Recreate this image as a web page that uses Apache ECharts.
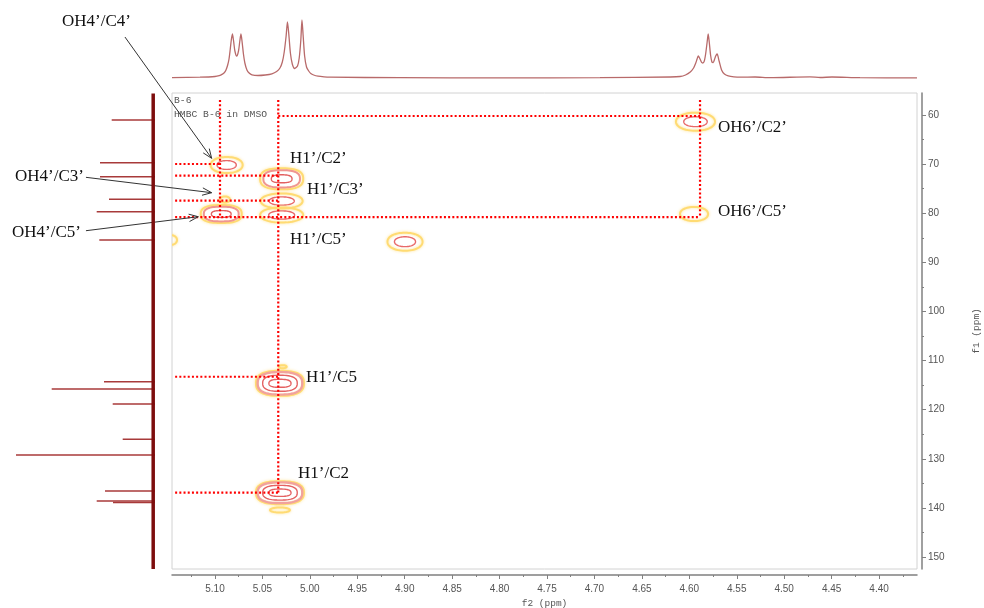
<!DOCTYPE html>
<html><head><meta charset="utf-8">
<script src="https://cdn.jsdelivr.net/npm/echarts@6/dist/echarts.min.js"></script>
<style>html,body{margin:0;padding:0;background:#fff}#c{width:984px;height:608px}</style>
</head><body><div id="c"></div>
<script>
// ---------- axes ----------
const f2Range = [4.36, 5.1453];
const f1Range = [55.52, 152.44];
const f2Ticks = [5.10, 5.05, 5.00, 4.95, 4.90, 4.85, 4.80, 4.75, 4.70, 4.65, 4.60, 4.55, 4.50, 4.45, 4.40];
const f2MinorTicks = [5.125, 5.075, 5.025, 4.975, 4.925, 4.875, 4.825, 4.775, 4.725, 4.675, 4.625, 4.575, 4.525, 4.475, 4.425, 4.375];
const f1Ticks = [60, 70, 80, 90, 100, 110, 120, 130, 140, 150];
const f1MinorTicks = [65, 75, 85, 95, 105, 115, 125, 135, 145];

// ---------- 1H projection (top) ----------
const h1Shift = [5.1453, 5.1158, 5.1000, 5.0955, 5.0926, 5.0900, 5.0884, 5.0866, 5.0852, 5.0840, 5.0828, 5.0816, 5.0804, 5.0790, 5.0771, 5.0752, 5.0738, 5.0726, 5.0714, 5.0700, 5.0685, 5.0663, 5.0640, 5.0610, 5.0547, 5.0470, 5.0400, 5.0350, 5.0315, 5.0290, 5.0270, 5.0250, 5.0236, 5.0222, 5.0205, 5.0185, 5.0160, 5.0130, 5.0112, 5.0095, 5.0083, 5.0071, 5.0055, 5.0035, 5.0012, 4.9990, 4.9960, 4.9914, 4.9850, 4.9788, 4.9050, 4.7996, 4.6941, 4.6200, 4.6098, 4.6040, 4.5990, 4.5955, 4.5932, 4.5918, 4.5906, 4.5892, 4.5870, 4.5858, 4.5842, 4.5828, 4.5812, 4.5801, 4.5790, 4.5776, 4.5762, 4.5748, 4.5733, 4.5722, 4.5707, 4.5686, 4.5660, 4.5630, 4.5590, 4.5530, 4.5465, 4.5307, 4.5149, 4.4728, 4.4620, 4.4496, 4.4201, 4.3600];
const h1Intensity = [0.3, 0.8, 1.5, 2.4, 3.6, 5.5, 8, 13, 19, 28, 38, 44, 37, 27, 22, 27, 37, 44, 36, 24, 15, 8, 5, 3.2, 2.5, 3, 4.2, 6.5, 10, 16, 26, 42, 56, 44, 25, 14, 9.5, 12, 20, 38, 58, 43, 22, 11, 7, 4.5, 3, 1.8, 1.1, 0.8, 0.3, 0.2, 0.3, 1.0, 1.5, 3, 6, 10, 15, 19, 22, 20, 15.5, 15, 17, 24, 36, 44, 36, 23, 16, 15.5, 19, 22, 24, 17, 8, 4, 2.2, 1.2, 0.8, 1.0, 0.3, 1.2, 0.5, 1.0, 0.3, 0.2];

// ---------- 13C projection (left) ----------
const c13Shift = [61.02, 69.71, 72.56, 77.17, 79.69, 85.45, 114.31, 115.79, 118.85, 126.04, 129.23, 136.56, 138.60, 138.91];
const c13Intensity = [43.3, 55, 55, 46, 58.3, 55.7, 51, 103.3, 42.3, 32.3, 139, 50, 58.3, 42];

// ---------- HMBC cross peaks ----------
const peakF2 = [5.0877, 5.0297, 5.0297, 5.0297, 5.0934, 5.0895, 4.8997, 5.1474, 4.5935, 4.5950, 5.0315, 5.0286, 5.0315, 5.0315];
const peakF1 = [70.18, 72.99, 77.51, 80.36, 80.16, 77.2, 85.80, 85.45, 61.36, 80.16, 114.63, 111.25, 136.91, 140.43];
const peakHalfF2 = [0.0169, 0.0227, 0.0221, 0.0227, 0.0216, 0.0053, 0.0185, 0.0074, 0.0206, 0.0148, 0.0253, 0.0042, 0.0253, 0.0105];
const peakHalfF1 = [1.63, 2.14, 1.53, 1.53, 1.83, 0.61, 1.83, 1.02, 1.83, 1.43, 2.55, 0.31, 2.34, 0.51];
const peakLevels = [1, 2, 1, 1, 2, 0, 1, 0, 1, 0, 3, 0, 3, 0];

// ---------- dotted correlation guides ----------
const guideH = [[60.2, 5.0333, 4.5887], [69.98, 5.142, 5.0947], [72.36, 5.142, 5.0333], [77.45, 5.142, 5.0333], [80.8, 5.142, 4.5887], [113.3, 5.142, 5.0333], [136.9, 5.142, 5.0333]];
const guideV = [[5.0947, 56.95, 80.8], [5.0333, 56.95, 136.9], [4.5887, 56.95, 80.8]];

// ---------- annotations ----------
const labelText = ['OH4’/C4’', 'OH4’/C3’', 'OH4’/C5’', 'H1’/C2’', 'H1’/C3’', 'H1’/C5’', 'OH6’/C2’', 'OH6’/C5’', 'H1’/C5', 'H1’/C2'];
const labelF2 = [5.2613, 5.3108, 5.3140, 5.0209, 5.0030, 5.0209, 4.5697, 4.5697, 5.0041, 5.0125];
const labelF1 = [41.06, 72.62, 84.03, 68.96, 75.27, 85.45, 62.65, 79.75, 113.55, 132.9];
const arrowFrom = [[5.1949, 44.12], [5.2360, 72.69], [5.2360, 83.56]];
const arrowTo = [[5.1035, 68.82], [5.1035, 75.82], [5.1176, 80.71]];

// ---------- rendering helpers ----------
function blob(cx, cy, a, b, p) {
  const pts = [];
  for (let k = 0; k < 64; k++) {
    const t = k / 64 * Math.PI * 2, ct = Math.cos(t), st = Math.sin(t);
    pts.push([cx + a * Math.sign(ct) * Math.pow(Math.abs(ct), 2 / p),
              cy + b * Math.sign(st) * Math.pow(Math.abs(st), 2 / p)]);
  }
  return pts;
}
const ringSets = {
  0: [],
  1: [[0.6, 0.55, 1.4, '#e86868']],
  2: [[0.85, 0.82, 2.0, '#f09590'], [0.48, 0.38, 1.4, '#e26060']],
  3: [[0.93, 0.9, 2.4, '#f2a29c'], [0.72, 0.64, 1.4, '#e46262'], [0.46, 0.32, 1.4, '#e46262']]
};
const tickFont = 'Liberation Sans';
const monoFont = 'Liberation Mono';
const axisGray = '#808080';

const chart = echarts.init(document.getElementById('c'), null, {renderer: 'canvas'});
chart.setOption({
  animation: false,
  backgroundColor: '#fff',
  grid: [
    {left: 172, width: 745, top: 93, height: 476, show: true, borderColor: '#d2d2d2', borderWidth: 1, backgroundColor: 'transparent', outerBoundsMode: 'none', containLabel: false},
    {left: 172, width: 745, top: 20, height: 58, show: false, outerBoundsMode: 'none', containLabel: false},
    {left: 0, width: 155, top: 93, height: 476, show: false, outerBoundsMode: 'none', containLabel: false}
  ],
  xAxis: [
    {type: 'value', gridIndex: 0, min: f2Range[0], max: f2Range[1], inverse: true, position: 'bottom', offset: 6,
     axisLine: {show: true, onZero: false, lineStyle: {color: axisGray, width: 1.5}},
     axisTick: {show: true, length: 4, customValues: f2Ticks, lineStyle: {color: axisGray}},
     axisLabel: {customValues: f2Ticks, formatter: v => v.toFixed(2), margin: 9, fontSize: 10, fontFamily: tickFont, color: '#555'},
     splitLine: {show: false},
     name: 'f2 (ppm)', nameLocation: 'middle', nameGap: 22, nameTextStyle: {fontFamily: monoFont, fontSize: 9.5, color: '#555'}},
    {type: 'value', gridIndex: 0, min: f2Range[0], max: f2Range[1], inverse: true, position: 'bottom', offset: 6,
     axisLine: {show: false}, axisLabel: {show: false}, splitLine: {show: false},
     axisTick: {show: true, length: 2, customValues: f2MinorTicks, lineStyle: {color: axisGray}}},
    {type: 'value', gridIndex: 1, min: f2Range[0], max: f2Range[1], inverse: true, show: false},
    {type: 'value', gridIndex: 2, min: 0, max: 155, inverse: true, show: false}
  ],
  yAxis: [
    {type: 'value', gridIndex: 0, min: f1Range[0], max: f1Range[1], inverse: true, position: 'right', offset: 5,
     axisLine: {show: true, onZero: false, lineStyle: {color: axisGray, width: 1.5}},
     axisTick: {show: true, length: 4, customValues: f1Ticks, lineStyle: {color: axisGray}},
     axisLabel: {customValues: f1Ticks, margin: 6, fontSize: 10, fontFamily: tickFont, color: '#555'},
     splitLine: {show: false},
     name: 'f1 (ppm)', nameLocation: 'middle', nameRotate: 90, nameGap: 49, nameTextStyle: {fontFamily: monoFont, fontSize: 9.5, color: '#555'}},
    {type: 'value', gridIndex: 0, min: f1Range[0], max: f1Range[1], inverse: true, position: 'right', offset: 5,
     axisLine: {show: false}, axisLabel: {show: false}, splitLine: {show: false},
     axisTick: {show: true, length: 2, customValues: f1MinorTicks, lineStyle: {color: axisGray}}},
    {type: 'value', gridIndex: 1, min: 0, max: 58, show: false},
    {type: 'value', gridIndex: 2, min: f1Range[0], max: f1Range[1], inverse: true, show: false}
  ],
  graphic: [
    {type: 'text', left: 174, top: 95, style: {text: 'B-6', font: '9.7px "Liberation Mono"', fill: '#555'}},
    {type: 'text', left: 174, top: 109, style: {text: 'HMBC B-6 in DMSO', font: '9.7px "Liberation Mono"', fill: '#555'}}
  ],
  series: [
    // top 1H trace
    {type: 'line', xAxisIndex: 2, yAxisIndex: 2, data: h1Shift.map((x, i) => [x, h1Intensity[i]]),
     showSymbol: false, smooth: 0.25, clip: false, lineStyle: {color: '#b86a6a', width: 1.3}},
    // left 13C baseline
    {type: 'line', xAxisIndex: 3, yAxisIndex: 3, data: [[1.8, f1Range[0] + 0.1], [1.8, f1Range[1]]],
     showSymbol: false, lineStyle: {color: '#7d0d0d', width: 3.5}},
    // left 13C peaks
    {type: 'custom', xAxisIndex: 3, yAxisIndex: 3, data: c13Shift.map((y, i) => [c13Intensity[i], y]),
     renderItem(params, api) {
       const p1 = api.coord([0, api.value(1)]), p2 = api.coord([api.value(0), api.value(1)]);
       return {type: 'line', shape: {x1: p1[0], y1: p1[1], x2: p2[0], y2: p2[1]}, style: {stroke: '#a83a3a', lineWidth: 1.5}};
     }},
    // HMBC contours
    {type: 'custom', xAxisIndex: 0, yAxisIndex: 0, clip: true,
     data: peakF2.map((x, i) => [x, peakF1[i], peakHalfF2[i], peakHalfF1[i], peakLevels[i]]),
     renderItem(params, api) {
       const c = api.coord([api.value(0), api.value(1)]);
       const s = api.size([api.value(2), api.value(3)]);
       const a = Math.abs(s[0]), b = Math.abs(s[1]);
       const lv = api.value(4);
       const p = lv >= 2 ? 2.6 : 2.1;
       const children = [{type: 'polygon', shape: {points: blob(c[0], c[1], a, b, p)},
         style: {fill: 'none', stroke: '#ffdb73', lineWidth: 2, shadowBlur: 3, shadowColor: 'rgba(255,220,120,0.8)'}}];
       ringSets[lv].forEach(r => children.push({type: 'polygon', shape: {points: blob(c[0], c[1], a * r[0], b * r[1], p)},
         style: {fill: 'none', stroke: r[3], lineWidth: r[2]}}));
       return {type: 'group', children};
     }},
    // dotted guides horizontal
    {type: 'custom', xAxisIndex: 0, yAxisIndex: 0, clip: false, data: guideH,
     renderItem(params, api) {
       const p1 = api.coord([api.value(1), api.value(0)]), p2 = api.coord([api.value(2), api.value(0)]);
       return {type: 'line', shape: {x1: p1[0], y1: p1[1], x2: p2[0], y2: p2[1]}, style: {stroke: '#ff0000', lineWidth: 2.2, lineDash: [2, 2.2]}};
     }},
    // dotted guides vertical
    {type: 'custom', xAxisIndex: 0, yAxisIndex: 0, clip: false, data: guideV,
     renderItem(params, api) {
       const p1 = api.coord([api.value(0), api.value(1)]), p2 = api.coord([api.value(0), api.value(2)]);
       return {type: 'line', shape: {x1: p1[0], y1: p1[1], x2: p2[0], y2: p2[1]}, style: {stroke: '#ff0000', lineWidth: 2.2, lineDash: [2, 2.2]}};
     }},
    // arrows
    {type: 'custom', xAxisIndex: 0, yAxisIndex: 0, clip: false,
     data: arrowFrom.map((f, i) => [f[0], f[1], arrowTo[i][0], arrowTo[i][1]]),
     renderItem(params, api) {
       const p1 = api.coord([api.value(0), api.value(1)]), p2 = api.coord([api.value(2), api.value(3)]);
       const ang = Math.atan2(p2[1] - p1[1], p2[0] - p1[0]);
       const L = 10, sp = 0.38;
       const h1 = [p2[0] - L * Math.cos(ang - sp), p2[1] - L * Math.sin(ang - sp)];
       const h2 = [p2[0] - L * Math.cos(ang + sp), p2[1] - L * Math.sin(ang + sp)];
       return {type: 'group', children: [
         {type: 'line', shape: {x1: p1[0], y1: p1[1], x2: p2[0], y2: p2[1]}, style: {stroke: '#333', lineWidth: 1}},
         {type: 'polyline', shape: {points: [h1, p2, h2]}, style: {stroke: '#333', fill: 'none', lineWidth: 1}}
       ]};
     }},
    // labels
    {type: 'custom', xAxisIndex: 0, yAxisIndex: 0, clip: false,
     data: labelText.map((t, i) => [labelF2[i], labelF1[i]]),
     renderItem(params, api) {
       const p = api.coord([api.value(0), api.value(1)]);
       return {type: 'text', x: p[0], y: p[1], style: {text: labelText[params.dataIndex], fontFamily: 'Liberation Serif', fontSize: 17, fill: '#111', align: 'left', verticalAlign: 'middle'}};
     }}
  ]
});
</script>
</body></html>
